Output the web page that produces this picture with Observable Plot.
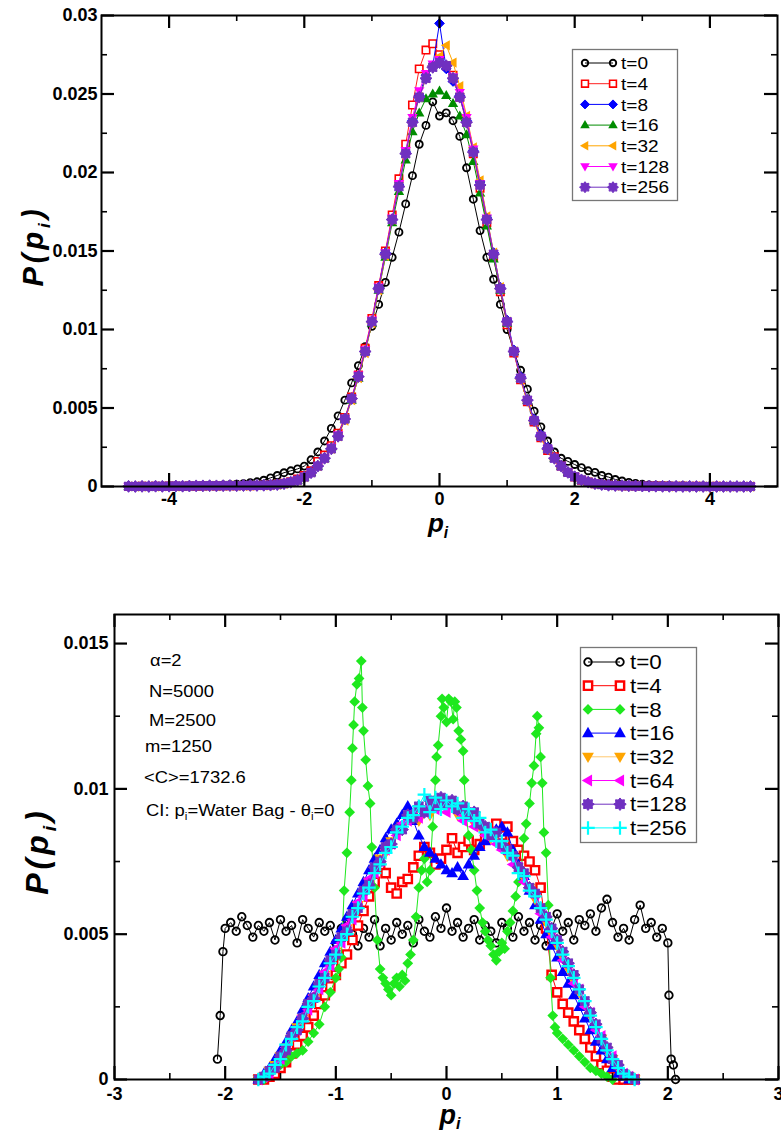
<!DOCTYPE html>
<html><head><meta charset="utf-8">
<script src="https://cdn.jsdelivr.net/npm/d3@7"></script>
<script src="https://cdn.jsdelivr.net/npm/@observablehq/plot@0.6"></script>
<style>
body{margin:0;background:#fff;}
#wrap{position:relative;width:781px;height:1133px;overflow:hidden;background:#fff;}
</style></head><body><div id="wrap"></div>
<script>
// ---------------- DATA ----------------
const topLabels = ["t=0","t=4","t=8","t=16","t=32","t=128","t=256"];
const botLabels = ["t=0","t=4","t=8","t=16","t=32","t=64","t=128","t=256"];

const topXTicks = [-4,-2,0,2,4];
const topXMinor = [-3,-1,1,3];
const topYTicks = [0,0.005,0.01,0.015,0.02,0.025,0.03];
const topYMinor = [0.0025,0.0075,0.0125,0.0175,0.0225,0.0275];
const botXTicks = [-3,-2,-1,0,1,2,3];
const botXMinor = [-2.5,-1.5,-0.5,0.5,1.5,2.5];
const botYTicks = [0,0.005,0.01,0.015];
const botYMinor = [0.0025,0.0075,0.0125];

const topX = [-4.6,-4.5,-4.4,-4.3,-4.2,-4.1,-4,-3.9,-3.8,-3.7,-3.6,-3.5,-3.4,-3.3,-3.2,-3.1,-3,-2.9,-2.8,-2.7,-2.6,
-2.5,-2.4,-2.3,-2.2,-2.1,-2,-1.9,-1.8,-1.7,-1.6,-1.5,-1.4,-1.3,-1.2,-1.1,-1,-0.9,-0.8,-0.7,-0.6,
-0.5,-0.4,-0.3,-0.2,-0.1,0,0.1,0.2,0.3,0.4,0.5,
0.6,0.7,0.8,0.9,1,1.1,1.2,1.3,1.4,1.5,1.6,1.7,1.8,1.9,2,2.1,2.2,2.3,2.4,2.5,
2.6,2.7,2.8,2.9,3,3.1,3.2,3.3,3.4,3.5,3.6,3.7,3.8,3.9,4,4.1,4.2,4.3,4.4,4.5,4.6];

const topT0 = [0,0,0,.00002,0,.00003,.00002,.00004,.00003,.00005,.00004,.00006,.00008,.00007,.0001,.00012,.00015,
.00018,.00024,.0003,.0004,.00055,.0007,.00088,.001,.00112,.0013,
.0017,.0022,.0029,.0037,.0045,.0055,.0066,.0077,.0089,.0102,
.0116,.013,.0146,.0162,.018,.0198,.0218,.023,.0245,
.0236,
.0238,.0233,.0223,.0203,.0183,.0163,.0146,.0132,.0116,
.01,.0086,.0074,.0062,.0048,.0038,.0029,.0022,.0018,.0016,
.0014,.0012,.001,.0009,.0007,.0006,.00045,.00035,.00026,.0002,
.00014,.0001,.00009,.00007,.00006,.00004,.00005,.00003,.00002,.00003,.00002,0,.00001,0,0,0,0];

const topT4 = [0,0,.00002,0,.00001,0,.00003,.00002,0,.00003,.00002,.00003,.00004,.00003,.00004,.00005,.00004,.00006,.00005,.00007,.00008,
.0001,.00014,.0002,.0003,.00048,.0007,.001,.0016,.002,.0026,
.0034,.0044,.0057,.0071,.0088,.0107,.0128,.015,.0173,.0196,
.0218,.0243,.0266,.0278,.0282,.0275,.0268,.0262,.0248,.0232,.0212,
.019,.0168,.0146,.0124,.0103,.0085,.0068,.0054,.0041,.0031,
.0023,.0019,.0013,.0009,.0006,.0004,.00028,.00018,.00012,.00008,
.00006,.00005,.00004,.00003,.00004,.00002,.00003,.00001,.00002,0,.00001,0,.00002,0,0,.00001,0,0,0,0,0];

const topT8 = [0,.00001,0,0,.00002,0,.00001,.00003,0,.00002,.00003,.00002,.00004,.00003,.00004,.00005,.00004,.00006,.00005,.00006,.00007,
.00009,.00013,.00019,.00027,.0004,.0006,.0009,.0013,.0018,.0024,
.0032,.0043,.0056,.007,.0086,.0105,.0127,.0149,.017,.0192,
.0213,.0233,.0249,.0262,.0268,.0295,.0266,.0258,.0249,.0233,.0214,
.0194,.0171,.0149,.0127,.0106,.0087,.007,.0055,.0043,.0033,
.0025,.0018,.0013,.0009,.0006,.00043,.00029,.00019,.00012,.00008,
.00006,.00005,.00003,.00004,.00002,.00003,.00001,.00002,0,.00001,0,0,.00001,0,0,0,0,0,0,0,0];

const topT16 = [0,0,.00002,.00001,0,.00002,0,.00003,.00002,.00004,.00003,.00005,.00004,.00003,.00005,.00004,.00006,.00005,.00007,.00006,.00007,
.00008,.00012,.00018,.00026,.0004,.00058,.0009,.0013,.0018,.0025,
.0033,.0043,.0055,.0069,.0086,.0104,.0125,.0146,.0168,.0188,
.0208,.0226,.0238,.0247,.025,.0252,.0249,.0244,.0236,.0224,.0207,
.0187,.0166,.0145,.0125,.0104,.0086,.0069,.0055,.0042,.0032,
.0024,.0018,.0013,.0009,.00062,.00042,.00028,.00018,.00012,.00008,
.00006,.00004,.00005,.00003,.00002,.00003,.00002,0,.00001,.00002,0,0,0,.00001,0,0,0,0,0,0,0];

const topT32 = [.00001,0,0,.00002,0,.00001,.00002,0,.00003,.00002,.00004,.00003,.00005,.00003,.00004,.00006,.00005,.00004,.00006,.00007,.00006,
.00008,.00011,.00017,.00026,.00039,.0006,.0009,.0013,.0018,.0024,
.0032,.0042,.0055,.0069,.0085,.0104,.0125,.0147,.017,.0192,
.0213,.0232,.0248,.026,.0268,.0274,.0281,.027,.0255,.0236,.0216,
.0195,.0172,.0149,.0127,.0105,.0086,.0068,.0054,.0041,.0031,
.0023,.0017,.0012,.00088,.0006,.0004,.00027,.00018,.00011,.00007,
.00006,.00004,.00003,.00004,.00002,.00001,.00003,.00001,0,.00002,0,.00001,0,0,0,0,0,0,0,0,0];

const topT128 = [0,.00002,0,.00001,.00002,0,.00003,.00001,.00002,.00004,.00003,.00005,.00004,.00003,.00005,.00006,.00004,.00006,.00007,.00006,.00008,
.00009,.00013,.00019,.00028,.00042,.0006,.0009,.0013,.0018,.0025,
.0033,.0043,.0056,.0071,.0087,.0106,.0127,.0149,.0171,.0193,
.0214,.0235,.0252,.0263,.0269,.0272,.0268,.0261,.0251,.0235,.0215,
.0193,.0171,.0148,.0126,.0105,.0086,.0069,.0055,.0042,.0032,
.0024,.0018,.0013,.0009,.00061,.00041,.00028,.00018,.00012,.00008,
.00006,.00005,.00004,.00002,.00003,.00002,.00001,.00002,0,.00001,0,0,.00001,0,0,0,0,0,0,0,0];

const topT256 = [.00001,0,.00001,0,.00002,.00001,.00002,.00003,.00002,.00003,.00004,.00004,.00005,.00004,.00005,.00006,.00005,.00006,.00007,.00007,.00008,
.00009,.00012,.00018,.00027,.0004,.0006,.00088,.0013,.0018,.0024,
.0032,.0043,.0056,.007,.0086,.0105,.0126,.0148,.017,.0191,
.0212,.0232,.0248,.026,.0267,.027,.0268,.026,.0248,.0232,.0213,
.0192,.017,.0148,.0126,.0105,.0086,.0069,.0055,.0042,.0032,
.0024,.0018,.0013,.0009,.00062,.00042,.00028,.00018,.00012,.00008,
.00006,.00005,.00004,.00003,.00003,.00002,.00002,.00001,.00001,.00001,0,.00001,0,0,0,0,0,0,0,0,0];

// bottom panel
const botBlackX = [-2.07,-2.045,-2.02,
-2,-1.95,-1.9,-1.85,-1.8,-1.75,-1.7,-1.65,-1.6,-1.55,
-1.5,-1.45,-1.4,-1.35,-1.3,-1.25,-1.2,-1.15,-1.1,-1.05,
-1,-0.95,-0.9,-0.85,-0.8,-0.75,-0.7,-0.65,-0.6,-0.55,
-0.5,-0.45,-0.4,-0.35,-0.3,-0.25,-0.2,-0.15,-0.1,-0.05,
0,0.05,0.1,0.15,0.2,0.25,0.3,0.35,0.4,0.45,
0.5,0.55,0.6,0.65,0.7,0.75,0.8,0.85,0.9,0.95,
1,1.05,1.1,1.15,1.2,1.25,1.3,1.35,1.4,1.45,
1.5,1.55,1.6,1.65,1.7,1.75,1.8,1.85,1.9,1.95,2,
2.01,2.03,2.05,2.07];
const botT0 = [.0007,.0022,.0044,
.0052,.0054,.0051,.0056,.0053,.0049,.0053,.0051,.0054,.0048,
.0055,.0051,.0053,.0047,.0055,.0052,.0049,.0054,.0051,.0053,
.0047,.0052,.0055,.005,.0046,.0052,.0049,.0055,.0046,.0052,
.0048,.0054,.005,.0053,.0047,.0055,.0051,.0049,.0056,.0052,
.0059,.0051,.0054,.0049,.0052,.0055,.0048,.0053,.0051,.0047,
.0054,.0052,.0049,.0056,.0051,.0054,.0048,.0053,.0046,.0052,
.0057,.0051,.0054,.0048,.0055,.0053,.0057,.0051,.0059,.0062,
.0054,.0049,.0052,.0048,.0055,.006,.0052,.0054,.0049,.0052,.0047,
.0029,.0007,.0005,0];

const botX = [-1.7,-1.65,-1.6,-1.55,-1.5,-1.45,-1.4,-1.35,-1.3,-1.25,
-1.2,-1.15,-1.1,-1.05,-1,-0.95,-0.9,-0.85,-0.8,-0.75,
-0.7,-0.65,-0.6,-0.55,-0.5,-0.45,-0.4,-0.35,-0.3,-0.25,
-0.2,-0.15,-0.1,-0.05,0,0.05,0.1,0.15,0.2,0.25,
0.3,0.35,0.4,0.45,0.5,0.55,0.6,0.65,0.7,0.75,
0.8,0.85,0.9,0.95,1,1.05,1.1,1.15,1.2,1.25,
1.3,1.35,1.4,1.45,1.5,1.55,1.6,1.65,1.7];

const botT4 = [0,0,.0001,.0002,.0004,.0006,.0009,.0012,.0015,.0018,
.0022,.0026,.0029,.0032,.0036,.004,.0043,.0048,.0053,.0058,
.0063,.0068,.0073,.0071,.0066,.0064,.0068,.0069,.0073,.0077,
.008,.0078,.0074,.0076,.0079,.0083,.0078,.008,.0082,.0079,
.0081,.0083,.0085,.0088,.0084,.0087,.0082,.0079,.0077,.0075,
.0072,.0066,.0052,.0036,.003,.0026,.0023,.002,.0017,.0014,
.0011,.0008,.0005,.0003,.0001,0,0,0,0];

const botT16 = [0,.0002,.0004,.0007,.001,.0013,.0017,.002,.0024,.0028,
.0032,.0036,.004,.0044,.0048,.0052,.0056,.006,.0064,.0068,
.0072,.0076,.0079,.0083,.0086,.0088,.0091,.0094,.0089,.0084,
.008,.0078,.0076,.0074,.0072,.0071,.0073,.007,.0074,.0077,
.008,.0082,.0084,.0086,.0087,.0085,.0079,.0074,.007,.0065,
.006,.0055,.005,.0046,.0042,.0037,.0033,.0029,.0025,.0021,
.0017,.0013,.001,.0007,.0004,.0002,.0001,0,0];

const botT32 = [0,.0001,.0003,.0005,.0008,.0011,.0014,.0018,.0021,.0025,
.0028,.0032,.0036,.004,.0044,.0048,.0052,.0056,.006,.0064,
.0068,.0072,.0076,.0078,.0082,.0085,.0087,.009,.0091,.0089,
.0093,.0091,.0094,.0096,.0093,.0095,.0091,.009,.0092,.0088,
.0087,.0086,.0083,.0084,.008,.0077,.0076,.0072,.0069,.0066,
.0062,.0058,.0054,.005,.0046,.0042,.0038,.0034,.003,.0026,
.0022,.0018,.0014,.001,.0007,.0004,.0002,.0001,0];

const botT64 = [0,.0001,.0002,.0005,.0007,.0011,.0015,.0017,.0022,.0024,
.0029,.0031,.0037,.0039,.0045,.0047,.0053,.0055,.0061,.0063,
.0069,.0071,.0075,.0079,.0081,.0084,.0088,.0089,.0092,.009,
.0092,.0094,.0093,.0095,.0092,.0094,.0092,.0089,.009,.0087,
.0088,.0084,.0085,.0081,.0079,.0078,.0074,.0073,.0068,.0065,
.0063,.0057,.0055,.0049,.0047,.0041,.0039,.0033,.0031,.0025,
.0023,.0017,.0015,.001,.0008,.0004,.0002,.0001,0];

const botT128 = [0,.0001,.0003,.0004,.0008,.001,.0015,.0017,.0021,.0026,
.0028,.0033,.0035,.0041,.0043,.0049,.0051,.0057,.0059,.0065,
.0067,.0073,.0075,.008,.0081,.0086,.0086,.0091,.009,.0094,
.0092,.0096,.0094,.0097,.0095,.0096,.0093,.0094,.0091,.0092,
.0088,.0087,.0084,.0085,.0081,.0079,.0077,.0073,.0071,.0066,
.0064,.0059,.0056,.0052,.0048,.0044,.004,.0036,.0031,.0027,
.0023,.0019,.0014,.0011,.0007,.0005,.0002,.0001,0];

const botT256 = [0,.0001,.0002,.0005,.0007,.0012,.0014,.0018,.002,.0025,
.0027,.0032,.0035,.004,.0043,.0048,.005,.0056,.0059,.0064,
.0066,.0071,.0074,.0078,.008,.0085,.0087,.009,.0091,.0094,
.0098,.0092,.0097,.0093,.0096,.0094,.0095,.009,.0093,.0089,
.009,.0085,.0086,.0082,.0082,.0078,.0077,.0071,.007,.0065,
.0063,.0059,.0055,.0051,.0047,.0043,.0039,.0035,.0031,.0027,
.0022,.0018,.0014,.001,.0007,.0004,.0002,.0001,0];

const botGreenX = [-1.65,-1.6,-1.55,-1.5,-1.45,-1.4,-1.35,-1.3,-1.25,-1.2,-1.15,-1.1,-1.05,-1,
-0.975,-0.95,-0.925,-0.9,-0.875,-0.86,-0.85,-0.84,-0.83,-0.81,-0.79,-0.77,-0.76,-0.75,-0.73,-0.71,-0.69,-0.675,
-0.65,-0.625,-0.6,-0.575,-0.55,-0.525,-0.5,-0.475,-0.45,-0.425,-0.4,-0.375,-0.35,-0.325,-0.3,-0.275,-0.25,-0.225,
-0.2,-0.175,-0.15,-0.125,-0.1,-0.09,-0.075,-0.05,-0.04,-0.025,0,0.02,0.04,0.06,0.075,0.09,0.11,0.13,0.15,0.16,0.175,
0.2,0.225,0.25,0.275,0.3,0.325,0.35,0.375,0.4,0.425,0.45,0.475,0.5,0.525,0.55,0.575,0.6,0.625,0.65,0.675,
0.7,0.72,0.75,0.77,0.79,0.81,0.82,0.835,0.85,0.865,0.88,0.9,0.92,0.94,0.96,0.98,
1,1.05,1.1,1.15,1.2,1.25,1.3,1.35,1.4,1.45,1.5];
const botT8 = [0,.0002,.0004,.0005,.0006,.0008,.0009,.001,.0013,.0016,.0019,.0025,.003,.0035,
.0038,.0042,.0065,.0078,.0092,.0103,.0114,.0122,.013,.0136,.0138,.0144,.0128,.012,.011,.0101,.0095,.008,
.0066,.0048,.0038,.0035,.0033,.0031,.0029,.0033,.0035,.0032,.0036,.0034,.004,.0043,.0048,.0056,.0066,.0072,
.0076,.0068,.0072,.0087,.0103,.0111,.0115,.0125,.0131,.0128,.0123,.0131,.013,.0124,.013,.0128,.012,.0117,.0113,.0103,.0092,
.0084,.0079,.0072,.0065,.0059,.0054,.0051,.0048,.0046,.0043,.0041,.0044,.0047,.0045,.0051,.0054,.0058,.0063,.0068,.0072,
.0083,.0088,.0095,.0102,.0108,.0119,.0125,.0121,.0111,.0102,.0085,.0078,.006,.0035,.0022,.0018,
.0016,.0014,.0012,.001,.0008,.0006,.0004,.0003,.0002,.0001,0];

// ---------------- STYLES ----------------
const sz = s => Math.sqrt(s / Math.PI);
const symCircle = {draw(c,s){const r=sz(s); c.moveTo(r,0); c.arc(0,0,r,0,2*Math.PI); c.closePath();}};
const symSquare = {draw(c,s){const r=sz(s)*0.9; c.rect(-r,-r,2*r,2*r);}};
const symDiamond = {draw(c,s){const r=sz(s)*1.25; c.moveTo(0,-r); c.lineTo(r,0); c.lineTo(0,r); c.lineTo(-r,0); c.closePath();}};
const symTriUp = {draw(c,s){const r=sz(s)*1.3; c.moveTo(0,-r); c.lineTo(r*0.95,r*0.65); c.lineTo(-r*0.95,r*0.65); c.closePath();}};
const symTriDown = {draw(c,s){const r=sz(s)*1.3; c.moveTo(0,r); c.lineTo(r*0.95,-r*0.65); c.lineTo(-r*0.95,-r*0.65); c.closePath();}};
const symTriLeft = {draw(c,s){const r=sz(s)*1.3; c.moveTo(-r,0); c.lineTo(r*0.65,-r*0.95); c.lineTo(r*0.65,r*0.95); c.closePath();}};
const symBlob = {draw(c,s){const r=sz(s)*1.3; for(let k=0;k<16;k++){const a=k*Math.PI/8-Math.PI/2; const rr=k%2?r*0.72:r; const px=rr*Math.cos(a), py=rr*Math.sin(a); if(k) c.lineTo(px,py); else c.moveTo(px,py);} c.closePath();}};
const symPlus = {draw(c,s){const r=sz(s)*1.3; c.moveTo(-r,0); c.lineTo(r,0); c.moveTo(0,-r); c.lineTo(0,r);}};

const PURPLE = "#7030c0";
const topStyles = [
  {sym:symCircle, r:3.5, fill:"none", stroke:"#000", sw:1.9, line:"#000"},
  {sym:symSquare, r:4.1, fill:"#fff", stroke:"#ff0000", sw:1.6, line:"#ff2020"},
  {sym:symDiamond, r:3.9, fill:"#0000ff", stroke:"#0000ff", sw:1, line:"#0000ff"},
  {sym:symTriUp, r:4.2, fill:"#008c00", stroke:"none", sw:0, line:"#008c00"},
  {sym:symTriLeft, r:4.2, fill:"#ffa500", stroke:"none", sw:0, line:"#ffa500"},
  {sym:symTriDown, r:4.2, fill:"#ff00ff", stroke:"none", sw:0, line:"#ff00ff"},
  {sym:symBlob, r:4.6, fill:PURPLE, stroke:PURPLE, sw:1, line:PURPLE}
];
const botStyles = [
  {sym:symCircle, r:3.8, fill:"none", stroke:"#000", sw:1.8, line:"#000"},
  {sym:symSquare, r:4.6, fill:"#fff", stroke:"#ff0000", sw:2.4, line:"#ff0000"},
  {sym:symDiamond, r:4.3, fill:"#1ee81e", stroke:"none", sw:0, line:"#1ee81e"},
  {sym:symTriUp, r:4.8, fill:"#0000ff", stroke:"none", sw:0, line:"#0000ff"},
  {sym:symTriDown, r:4.8, fill:"#ffa500", stroke:"none", sw:0, line:"#ffc870"},
  {sym:symTriLeft, r:4.8, fill:"#ff00ff", stroke:"none", sw:0, line:"#ff00ff"},
  {sym:symBlob, r:4.8, fill:PURPLE, stroke:PURPLE, sw:1, line:PURPLE},
  {sym:symPlus, r:5.2, fill:"none", stroke:"#00ffff", sw:2.2, line:"#00ffff"}
];

const topSeries = [
  {x:topX, y:topT0}, {x:topX, y:topT4}, {x:topX, y:topT8}, {x:topX, y:topT16},
  {x:topX, y:topT32}, {x:topX, y:topT128}, {x:topX, y:topT256}
];
const botSeries = [
  {x:botBlackX, y:botT0}, {x:botX, y:botT4}, {x:botGreenX, y:botT8}, {x:botX, y:botT16},
  {x:botX, y:botT32}, {x:botX, y:botT64}, {x:botX, y:botT128}, {x:botX, y:botT256}
];

// ---------------- PLOTS ----------------
const FONT = "'Liberation Sans', Arial, Helvetica, sans-serif";
const fmt = d => String(d);

function panel(cfg) {
  const ih = cfg.height - cfg.mt - cfg.mb;
  const iw = 781 - cfg.ml - cfg.mr;
  const [x0, x1] = cfg.xDomain, [y0, y1] = cfg.yDomain;
  const dyMaj = (y1 - y0) * cfg.major / ih, dyMin = (y1 - y0) * cfg.minor / ih;
  const dxMaj = (x1 - x0) * cfg.major / iw, dxMin = (x1 - x0) * cfg.minor / iw;
  const marks = [];
  cfg.series.forEach((s, k) => {
    const st = cfg.styles[k];
    const n = Math.min(s.x.length, s.y.length);
    const data = s.x.slice(0, n).map((x, i) => ({x, y: s.y[i]}));
    marks.push(Plot.line(data, {x:"x", y:"y", stroke: st.line, strokeWidth: 1}));
    marks.push(Plot.dot(data, {x:"x", y:"y", symbol: st.sym, r: st.r, fill: st.fill, stroke: st.stroke, strokeWidth: st.sw}));
  });
  marks.push(
    // inward ticks on all four sides
    Plot.ruleX(cfg.xTicks, {x: d => d, y1: y0, y2: y0 + dyMaj, stroke: "#000", strokeWidth: 2.2}),
    Plot.ruleX(cfg.xTicks, {x: d => d, y1: y1 - dyMaj, y2: y1, stroke: "#000", strokeWidth: 2.2}),
    Plot.ruleX(cfg.xMinor, {x: d => d, y1: y0, y2: y0 + dyMin, stroke: "#000", strokeWidth: 1.6}),
    Plot.ruleX(cfg.xMinor, {x: d => d, y1: y1 - dyMin, y2: y1, stroke: "#000", strokeWidth: 1.6}),
    Plot.ruleY(cfg.yTicks, {y: d => d, x1: x0, x2: x0 + dxMaj, stroke: "#000", strokeWidth: 2.2}),
    Plot.ruleY(cfg.yTicks, {y: d => d, x1: x1 - dxMaj, x2: x1, stroke: "#000", strokeWidth: 2.2}),
    Plot.ruleY(cfg.yMinor, {y: d => d, x1: x0, x2: x0 + dxMin, stroke: "#000", strokeWidth: 1.6}),
    Plot.ruleY(cfg.yMinor, {y: d => d, x1: x1 - dxMin, x2: x1, stroke: "#000", strokeWidth: 1.6}),
    // tick labels
    Plot.axisX({anchor:"bottom", ticks:cfg.xTicks, tickSize:0, tickPadding:cfg.xPad, tickFormat:fmt, fontSize:cfg.fs, fontWeight:"bold", label:null}),
    Plot.axisY({anchor:"left", ticks:cfg.yTicks, tickSize:0, tickPadding:cfg.yPad, tickFormat:fmt, fontSize:cfg.fs, fontWeight:"bold", label:null}),
    Plot.frame({stroke:"#000", strokeWidth:2})
  );
  const svg = Plot.plot({
    width: 781, height: cfg.height,
    marginLeft: cfg.ml, marginRight: cfg.mr, marginTop: cfg.mt, marginBottom: cfg.mb,
    x: {type:"linear", domain: cfg.xDomain},
    y: {type:"linear", domain: cfg.yDomain},
    style: {fontFamily: FONT, overflow: "visible", background: "transparent", color: "#000"},
    marks
  });
  svg.style.position = "absolute";
  svg.style.left = "0px";
  svg.style.top = cfg.top + "px";
  return svg;
}

const wrap = document.getElementById("wrap");
wrap.append(panel({
  series: topSeries, styles: topStyles, top: 0, height: 545,
  ml: 101, mr: 4, mt: 15, mb: 59,
  xDomain: [-5, 5], yDomain: [0, 0.03],
  xTicks: topXTicks, xMinor: topXMinor, yTicks: topYTicks, yMinor: topYMinor,
  major: 13, minor: 6, xPad: 6, yPad: 4, fs: 18
}));
wrap.append(panel({
  series: botSeries, styles: botStyles, top: 560, height: 573,
  ml: 114, mr: 3, mt: 54, mb: 54,
  xDomain: [-3, 3], yDomain: [0, 0.016],
  xTicks: botXTicks, xMinor: botXMinor, yTicks: botYTicks, yMinor: botYMinor,
  major: 13, minor: 6, xPad: 8, yPad: 6, fs: 18
}));

// ---------------- OVERLAY: labels, annotations, legends ----------------
const ov = d3.create("svg").attr("width", 781).attr("height", 1133)
  .style("position","absolute").style("left","0px").style("top","0px")
  .style("font-family", FONT);

function subText(sel, parts, subSize, shift) {
  parts.forEach(p => {
    if (p.sub) sel.append("tspan").attr("font-size", subSize).attr("dy", shift).text(p.t);
    else sel.append("tspan").attr("dy", p.back ? -shift : 0).text(p.t);
  });
}
function yLabel(cx, cy, fs, ls) {
  const t = ov.append("text").attr("transform", `translate(${cx},${cy}) rotate(-90)`)
    .attr("text-anchor","middle").attr("font-size", fs).attr("font-weight","bold").attr("font-style","italic")
    .attr("letter-spacing", ls);
  subText(t, [{t:"P(p"},{t:"i",sub:true},{t:")",back:true}], fs*0.6, fs*0.25);
}
function xLabel(cx, by, fs, sh) {
  const t = ov.append("text").attr("x", cx).attr("y", by).attr("text-anchor","middle")
    .attr("font-size", fs).attr("font-weight","bold").attr("font-style","italic");
  subText(t, [{t:"p"},{t:"i",sub:true}], fs*0.6, sh);
}
yLabel(43, 246, 29, 4);
xLabel(438, 532, 26, 6);
yLabel(48, 851, 32, 4);
xLabel(450, 1124, 27, 5);

// annotations (bottom panel)
const ann = [
  {x:150, y:666, parts:[{t:"α=2"}]},
  {x:149, y:697, parts:[{t:"N=5000"}]},
  {x:149, y:726, parts:[{t:"M=2500"}]},
  {x:145, y:752, parts:[{t:"m=1250"}]},
  {x:144, y:783, parts:[{t:"<C>=1732.6"}]},
  {x:146, y:816, parts:[{t:"CI: p"},{t:"i",sub:true},{t:"=Water Bag - θ",back:true},{t:"i",sub:true},{t:"=0",back:true}]}
];
ann.forEach(a => {
  const t = ov.append("text").attr("transform", `translate(${a.x},${a.y}) scale(1.15,1)`)
    .attr("font-size", 16);
  subText(t, a.parts, 10, 4);
});

function legend(labels, styles, box) {
  const g = ov.append("g");
  g.append("rect").attr("x", box.x + 0.5).attr("y", box.y + 0.5).attr("width", box.w).attr("height", box.h)
    .attr("fill", "#fff").attr("stroke", "#777").attr("stroke-width", 1.3);
  labels.forEach((lab, k) => {
    const st = styles[k];
    const y = box.row0 + k * box.dy;
    g.append("line").attr("x1", box.lx1).attr("x2", box.lx2).attr("y1", y).attr("y2", y)
      .attr("stroke", st.line).attr("stroke-width", 1);
    [box.lx1, box.lx2].forEach(x => {
      g.append("path").attr("d", d3.symbol(st.sym, Math.PI * st.r * st.r * box.ms)())
        .attr("transform", `translate(${x},${y})`)
        .attr("fill", st.fill).attr("stroke", st.stroke === "none" ? null : st.stroke)
        .attr("stroke-width", st.sw);
    });
    g.append("text").attr("transform", `translate(${box.tx},${y}) scale(1.12,1)`).attr("dy", "0.36em")
      .attr("font-size", box.fs).text(lab);
  });
}
legend(topLabels, topStyles, {x:572, y:49, w:105, h:151, row0:63, dy:20.7, lx1:585, lx2:613, tx:621, fs:17, ms:0.85});
legend(botLabels, botStyles, {x:580, y:647, w:116, h:195, row0:662, dy:23.7, lx1:588, lx2:620, tx:630, fs:20, ms:1});

wrap.append(ov.node());
</script></body></html>
